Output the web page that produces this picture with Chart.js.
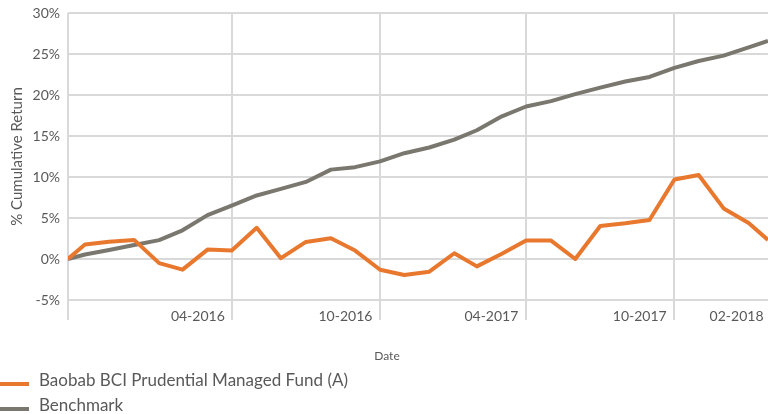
<!DOCTYPE html>
<html>
<head>
<meta charset="utf-8">
<script src="https://cdn.jsdelivr.net/npm/chart.js@4/dist/chart.umd.min.js"></script>
<style>
  html, body { margin: 0; padding: 0; background: #ffffff; }
  #wrap { width: 768px; height: 414px; }
</style>
</head>
<body>
<div id="wrap"><canvas id="chart" width="768" height="414"></canvas></div>
<script>
// Valuation dates: inception, then month-ends, then the latest valuation
const dates = [
  '2015-10-10', '2015-10-31', '2015-11-30', '2015-12-31', '2016-01-31', '2016-02-29',
  '2016-03-31', '2016-04-30', '2016-05-31', '2016-06-30', '2016-07-31', '2016-08-31',
  '2016-09-30', '2016-10-31', '2016-11-30', '2016-12-31', '2017-01-31', '2017-02-28',
  '2017-03-31', '2017-04-30', '2017-05-31', '2017-06-30', '2017-07-31', '2017-08-31',
  '2017-09-30', '2017-10-31', '2017-11-30', '2017-12-31', '2018-01-31', '2018-02-24'
];

// Cumulative returns, %
const fundReturns = [
  0, 1.76, 2.1, 2.33, -0.5, -1.3, 1.15, 1.03, 3.8, 0.1,
  2.08, 2.52, 1.03, -1.31, -1.96, -1.55, 0.7, -0.9, 0.63, 2.25,
  2.25, 0, 4.03, 4.35, 4.76, 9.7, 10.25, 6.17, 4.39, 2.33
];
const benchmarkReturns = [
  0, 0.55, 1.1, 1.7, 2.3, 3.5, 5.35, 6.5, 7.75, 8.55,
  9.4, 10.9, 11.2, 11.9, 12.9, 13.6, 14.55, 15.7, 17.4, 18.6,
  19.25, 20.1, 20.9, 21.65, 22.2, 23.3, 24.15, 24.8, 25.8, 26.6
];

const seriesNames = ['Baobab BCI Prudential Managed Fund (A)', 'Benchmark'];

// Date axis: half-year gridlines and the month labels
const gridDates = ['2016-04-30', '2016-10-31', '2017-04-30', '2017-10-31'];
const tickLabels = ['04-2016', '10-2016', '04-2017', '10-2017', '02-2018'];
const tickLabelDates = ['2016-03-19', '2016-09-18', '2017-03-18', '2017-09-18', '2018-01-16'];

// Return axis
const yMin = -5, yMax = 30, yStep = 5;

const DAY_MS = 86400000;
const toDay = s => Date.parse(s + 'T00:00:00Z') / DAY_MS;

const xValues = dates.map(toDay);
const gridValues = [xValues[0]].concat(gridDates.map(toDay));
const labelByValue = new Map(tickLabelDates.map((d, i) => [toDay(d), tickLabels[i]]));

const FONT = 'Lato, "Open Sans", sans-serif';
const TEXT = '#595959';
const GRID = '#d9d9d9';
const ORANGE = '#E9782F';
const GREY = '#7A776F';

// Vertical legend under the axis plus the centred "Date" caption
const captionsPlugin = {
  id: 'captions',
  afterDraw(chart) {
    const ctx = chart.ctx;
    ctx.save();
    ctx.fillStyle = TEXT;
    ctx.font = '12px ' + FONT;
    ctx.textAlign = 'center';
    ctx.textBaseline = 'alphabetic';
    ctx.fillText('Date', chart.width / 2 + 3, 360);

    ctx.textAlign = 'left';
    ctx.font = '17px ' + FONT;
    const rows = [384, 409];
    chart.data.datasets.forEach((ds, i) => {
      const y = rows[i];
      ctx.strokeStyle = ds.borderColor;
      ctx.lineWidth = 4;
      ctx.beginPath();
      ctx.moveTo(0, y);
      ctx.lineTo(29, y);
      ctx.stroke();
      ctx.fillStyle = TEXT;
      ctx.fillText(ds.label, 39, y + 2);
    });
    ctx.restore();
  }
};

new Chart(document.getElementById('chart'), {
  type: 'line',
  data: {
    datasets: [
      {
        label: seriesNames[0],
        data: xValues.map((x, i) => ({ x, y: fundReturns[i] })),
        borderColor: ORANGE,
        backgroundColor: ORANGE,
        borderWidth: 4,
        pointRadius: 0,
        tension: 0,
        borderJoinStyle: 'round'
      },
      {
        label: seriesNames[1],
        data: xValues.map((x, i) => ({ x, y: benchmarkReturns[i] })),
        borderColor: GREY,
        backgroundColor: GREY,
        borderWidth: 4,
        pointRadius: 0,
        tension: 0,
        borderJoinStyle: 'round'
      }
    ]
  },
  options: {
    responsive: false,
    animation: false,
    devicePixelRatio: 1,
    layout: { padding: { left: 0, top: 13, right: 0, bottom: 0 } },
    plugins: {
      legend: { display: false },
      tooltip: { enabled: false }
    },
    scales: {
      x: {
        type: 'linear',
        min: xValues[0],
        max: xValues[xValues.length - 1],
        afterBuildTicks(scale) {
          const vals = gridValues.concat([...labelByValue.keys()]).sort((a, b) => a - b);
          scale.ticks = vals.map(v => ({ value: v }));
        },
        afterFit(scale) {
          scale.height = 114;
          scale.paddingLeft = 0;
          scale.paddingRight = 0;
        },
        border: { display: false },
        grid: {
          color: ctx => (ctx.tick && gridValues.includes(ctx.tick.value)) ? GRID : 'rgba(0,0,0,0)',
          lineWidth: 2,
          tickLength: 20
        },
        ticks: {
          autoSkip: false,
          maxRotation: 0,
          minRotation: 0,
          padding: -12,
          color: TEXT,
          font: { family: FONT, size: 14 },
          callback: v => labelByValue.get(v) || ''
        }
      },
      y: {
        min: yMin,
        max: yMax,
        afterFit(scale) {
          scale.width = 68;
          scale.paddingTop = 0;
          scale.paddingBottom = 0;
        },
        border: { display: false },
        grid: { color: GRID, lineWidth: 2, drawTicks: false },
        ticks: {
          stepSize: yStep,
          padding: 8,
          color: TEXT,
          font: { family: FONT, size: 14 },
          callback: v => v + '%'
        },
        title: {
          display: true,
          text: '% Cumulative Return',
          color: TEXT,
          font: { family: FONT, size: 15 },
          padding: { top: 8, bottom: 0 }
        }
      }
    }
  },
  plugins: [captionsPlugin]
});
</script>
</body>
</html>
